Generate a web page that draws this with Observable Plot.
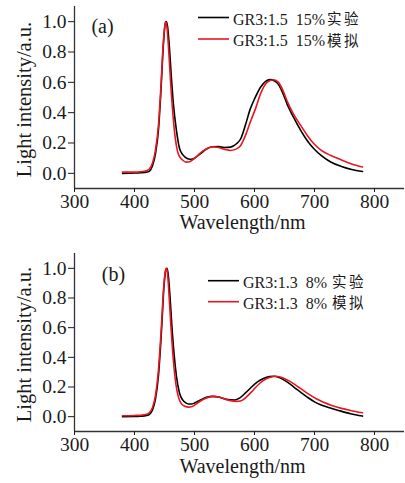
<!DOCTYPE html>
<html><head><meta charset="utf-8">
<script src="https://cdn.jsdelivr.net/npm/d3@7"></script>
<script src="https://cdn.jsdelivr.net/npm/@observablehq/plot@0.6"></script>
<style>
body{margin:0;background:#fff;}
#wrap{width:405px;font-family:"Liberation Serif","Times New Roman",serif;}
#wrap svg{display:block;}
</style></head>
<body><div id="wrap"></div>
<script>
// ---------- data ----------
const xDomain = [300, 850];
const yDomain = [-0.1, 1.1];
const xTicks = [300, 400, 500, 600, 700, 800];
const yTicks = [0, 0.2, 0.4, 0.6, 0.8, 1.0];
const xLabel = "Wavelength/nm";
const yLabel = "Light intensity/a.u.";
const panelTags = ["(a)", "(b)"];
const legendA = [["GR3:1.5  15%", "实验"], ["GR3:1.5  15%", "模拟"]];
const legendB = [["GR3:1.3  8%", "实验"], ["GR3:1.3  8%", "模拟"]];

// panel (a) experiment
const wlA_exp = [380,400,410,420,425,430,435,440,444,448,451,453,455,458,461,465,470,475,480,485,490,495,500,510,520,530,540,550,560,570,577,585,593,600,610,618,626,633,640,647,654,665,677,688,699,712,727,745,762,780];
const vA_exp  = [0.0,0.002,0.004,0.008,0.015,0.05,0.13,0.29,0.54,0.84,0.98,1.0,0.97,0.84,0.66,0.45,0.28,0.165,0.125,0.105,0.094,0.092,0.1,0.13,0.16,0.175,0.176,0.17,0.173,0.195,0.228,0.32,0.425,0.49,0.568,0.605,0.618,0.61,0.585,0.53,0.46,0.37,0.283,0.215,0.162,0.115,0.075,0.045,0.025,0.012];
// panel (a) simulation
const wlA_sim = [380,400,410,420,425,430,435,440,444,448,451,452,454,457,460,464,468,472,476,480,486,492,500,510,520,530,540,550,560,568,577,585,593,602,610,621,632,640,647,654,665,677,688,699,712,727,745,762,780];
const vA_sim  = [0.008,0.008,0.01,0.017,0.03,0.068,0.155,0.32,0.57,0.86,0.985,1.0,0.965,0.81,0.61,0.39,0.23,0.14,0.105,0.088,0.074,0.077,0.098,0.135,0.162,0.175,0.17,0.158,0.151,0.158,0.184,0.25,0.338,0.43,0.524,0.6,0.617,0.6,0.55,0.48,0.39,0.316,0.25,0.195,0.15,0.118,0.088,0.062,0.042];
// panel (b) experiment
const wlB_exp = [380,400,410,420,425,430,435,440,445,449,452,454,456,459,462,466,470,475,480,485,490,495,500,510,520,530,540,550,560,567,575,585,595,605,615,625,632,640,650,660,670,680,690,700,710,725,740,760,780];
const vB_exp  = [0.0,0.001,0.003,0.008,0.016,0.045,0.12,0.28,0.58,0.87,0.985,1.0,0.965,0.82,0.63,0.42,0.27,0.16,0.115,0.094,0.085,0.085,0.092,0.112,0.13,0.137,0.132,0.12,0.113,0.112,0.125,0.16,0.2,0.235,0.258,0.27,0.272,0.265,0.245,0.218,0.185,0.155,0.126,0.1,0.08,0.06,0.042,0.02,0.004];
// panel (b) simulation
const wlB_sim = [380,400,410,420,425,430,435,440,445,449,452,453,455,458,461,465,469,473,478,484,490,496,505,515,525,532,540,550,560,570,578,588,598,608,618,628,635,643,653,663,673,683,693,703,715,730,745,760,780];
const vB_sim  = [0.006,0.008,0.01,0.016,0.028,0.062,0.145,0.32,0.62,0.89,0.99,1.0,0.965,0.79,0.59,0.37,0.22,0.135,0.088,0.07,0.064,0.068,0.092,0.118,0.133,0.137,0.133,0.12,0.108,0.103,0.108,0.138,0.18,0.222,0.252,0.268,0.272,0.267,0.25,0.228,0.2,0.172,0.145,0.121,0.097,0.074,0.056,0.042,0.026];

const colors = ["#000000", "#e8161e"];
const toRows = (wl, v) => wl.map((w, i) => ({wl: w, v: v[i]}));

function panel(cfg) {
  const serif = "Liberation Serif, Times New Roman, serif";
  const chart = Plot.plot({
    width: 405, height: cfg.height,
    marginLeft: 74, marginRight: 1, marginTop: cfg.mt, marginBottom: 52,
    x: {domain: xDomain},
    y: {domain: yDomain},
    style: {fontFamily: serif, fontSize: "19px", color: "#1a1a1a", background: "white", overflow: "visible"},
    marks: [
      Plot.line(toRows(cfg.wlE, cfg.vE), {x: "wl", y: "v", stroke: colors[0], strokeWidth: 1.6, curve: "monotone-x"}),
      Plot.line(toRows(cfg.wlS, cfg.vS), {x: "wl", y: "v", stroke: colors[1], strokeWidth: 1.6, curve: "monotone-x"}),
      Plot.ruleX([xDomain[0]], {stroke: "#333", strokeWidth: 1.3}),
      Plot.ruleY([yDomain[0]], {stroke: "#333", strokeWidth: 1.3}),
      Plot.axisX({ticks: xTicks, tickSize: 4, tickPadding: 2, label: null, fontSize: 19.5}),
      Plot.axisY({ticks: yTicks, tickSize: 6, tickPadding: 2, label: null, fontSize: 19.5, tickFormat: d => d.toFixed(1)}),
      Plot.text([yLabel], {text: d => d, frameAnchor: "left", rotate: -90, dx: -50, dy: 2, fontSize: 20.5, textAnchor: "middle", lineAnchor: "middle"}),
      Plot.text([xLabel], {text: d => d, frameAnchor: "bottom", dx: 3, dy: cfg.xlDy, fontSize: 20, textAnchor: "middle", lineAnchor: "middle"}),
      Plot.text([cfg.tag], {text: d => d, frameAnchor: "top-left", dx: cfg.tagDx, dy: cfg.tagDy, fontSize: 20, textAnchor: "middle", lineAnchor: "middle"})
    ]
  });
  // legend (line + latin text + CJK text)
  const svg = d3.select(chart);
  const g = svg.append("g").attr("text-anchor", "start").attr("fill", "#1a1a1a");
  cfg.legend.forEach((lab, i) => {
    const ly = cfg.legY[i];
    g.append("line").attr("x1", cfg.legX).attr("x2", cfg.legX + 31)
      .attr("y1", ly).attr("y2", ly).attr("stroke", colors[i]).attr("stroke-width", 1.6);
    g.append("text").attr("x", cfg.legX + 35).attr("y", ly + 7)
      .attr("font-family", serif).attr("font-size", 16).style("white-space", "pre").text(lab[0]);
    g.append("text").attr("x", cfg.legX + 35 + cfg.cjkOff).attr("y", ly + 6.5)
      .attr("font-family", "Noto Sans CJK SC, sans-serif").attr("font-size", 14.5)
      .attr("letter-spacing", 2.5).text(lab[1]);
  });
  return chart;
}

const wrap = document.getElementById("wrap");
wrap.appendChild(panel({height: 240, mt: 6, wlE: wlA_exp, vE: vA_exp, wlS: wlA_sim, vS: vA_sim,
  tag: panelTags[0], tagDx: 28, tagDy: 20, xlDy: 34, legend: legendA, legX: 198, legY: [17.5, 39], cjkOff: 94}));
wrap.appendChild(panel({height: 243, mt: 13, wlE: wlB_exp, vE: vB_exp, wlS: wlB_sim, vS: vB_sim,
  tag: panelTags[1], tagDx: 39, tagDy: 21.5, xlDy: 35, legend: legendB, legX: 208, legY: [40.7, 61.7], cjkOff: 89}));
</script>
</body></html>
